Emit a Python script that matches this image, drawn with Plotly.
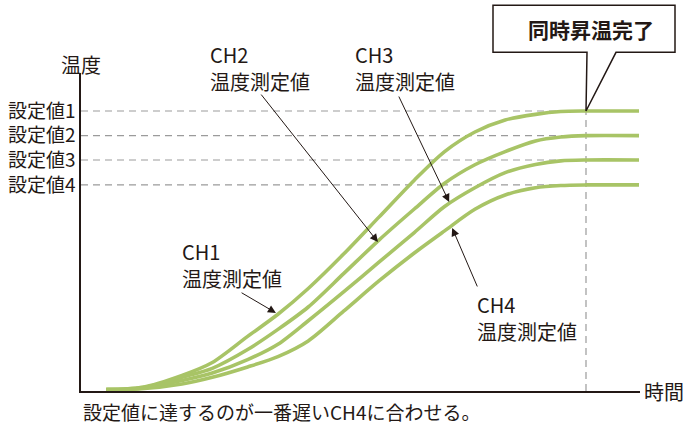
import plotly.graph_objects as go

# ---- data (arbitrary units) ----
time = [5, 12, 20, 26, 33, 39, 45, 52, 59, 66, 72, 78, 84, 90, 95, 100, 110.5]
ch1 = [0.5, 1.3, 5.6, 10.2, 19.5, 27.4, 36.6, 48.9, 62.1, 75.3, 85.5, 92.5, 96.8, 98.8, 99.8, 100, 100]
ch2 = [0.5, 1.1, 4.9, 8.1, 14.8, 22.0, 30.0, 41.9, 53.9, 65.0, 74.2, 80.8, 85.5, 89.3, 90.7, 91.2, 91.2]
ch3 = [0.5, 1.0, 3.75, 6.4, 11.2, 16.7, 25.1, 35.4, 46.0, 56.6, 65.9, 72.6, 78.0, 80.9, 82.2, 82.5, 82.5]
ch4 = [0.5, 0.8, 2.5, 4.9, 8.6, 12.3, 17.9, 28.5, 39.3, 49.3, 57.2, 64.9, 70.0, 72.6, 73.4, 73.6, 73.6]
setpoints = [100, 91.2, 82.5, 73.6]
setpoint_labels = ["設定値1", "設定値2", "設定値3", "設定値4"]
t_done = 100
series_names = ["CH1", "CH2", "CH3", "CH4"]
series_values = [ch1, ch2, ch3, ch4]
label_second_line = "温度測定値"

# label positions (time, temp of first line) and arrow tail/head
label_pos = {"CH1": (19.6, 49.8), "CH2": (25.15, 120.2), "CH3": (53.86, 120.2), "CH4": (78.0, 30.9)}
arrow_tail = {"CH1": (31.5, 35.4), "CH2": (35.45, 106.4), "CH3": (62.8, 105.7), "CH4": (78.6, 36.8)}
arrow_head = {"CH1": (38.6, 27.9), "CH2": (58.8, 53.2), "CH3": (72.9, 67.5), "CH4": (73.5, 58.2)}

X_MAX = 110.693
Y_MAX = 113.571
L, R, T, B = 81, 50, 73, 33
W, H = 690, 424
PW, PH = W - L - R, H - T - B
LINE_GAP_PX = 27

DARK = "#231815"
GREEN = "#a8c466"
GRAY = "#9b9b9b"
FONT = "Noto Sans CJK JP"

fig = go.Figure()

# setpoint dashed lines
for sp in setpoints:
    fig.add_trace(go.Scatter(x=[0, t_done], y=[sp, sp], mode="lines",
                             line=dict(color=GRAY, width=1.2, dash="7px,5px"),
                             hoverinfo="skip", showlegend=False))
# vertical completion line
fig.add_trace(go.Scatter(x=[t_done, t_done], y=[0, setpoints[0]], mode="lines",
                         line=dict(color=GRAY, width=1.2, dash="7px,5px"),
                         hoverinfo="skip", showlegend=False))

for name, vals in zip(series_names, series_values):
    fig.add_trace(go.Scatter(x=time, y=vals, mode="lines", name=name,
                             line=dict(color=GREEN, width=3.6, shape="spline", smoothing=0.8),
                             showlegend=False))

ann = []
for name in series_names:
    lx, ly = label_pos[name]
    for i, txt in enumerate([name, label_second_line]):
        ann.append(dict(x=lx / X_MAX, y=ly / Y_MAX, xref="paper", yref="paper",
                        yshift=-i * LINE_GAP_PX,
                        xanchor="left", yanchor="middle",
                        align="left", showarrow=False, text=txt,
                        font=dict(size=20, color=DARK, family=FONT)))
    hx, hy = arrow_head[name]
    tx, ty = arrow_tail[name]
    ann.append(dict(x=hx, y=hy, xref="x", yref="y", ax=tx, ay=ty, axref="x", ayref="y",
                    text="", showarrow=True, arrowhead=2, arrowsize=1.6, arrowwidth=1,
                    arrowcolor=DARK, standoff=0, startstandoff=0))

# axis titles and caption
ann.append(dict(x=0, y=1, xref="paper", yref="paper", xanchor="center", yanchor="middle",
                yshift=9, showarrow=False, text="温度", font=dict(size=20, color=DARK, family=FONT)))
ann.append(dict(x=1, y=0, xref="paper", yref="paper", xanchor="left", yanchor="middle",
                xshift=2, showarrow=False, text="時間", font=dict(size=20, color=DARK, family=FONT)))
ann.append(dict(x=0, y=0, xref="paper", yref="paper", xanchor="left", yanchor="middle",
                yshift=-20, showarrow=False, text="設定値に達するのが一番遅いCH4に合わせる。",
                font=dict(size=19, color=DARK, family=FONT)))

# callout bubble, anchored at completion point
tip_x = t_done / X_MAX
tip_y = setpoints[0] / Y_MAX
def px(dx):
    return tip_x + dx / PW
def py(dy):
    return tip_y + dy / PH
path = (f"M {px(-93)},{py(105.7)} L {px(89)},{py(105.7)} L {px(89)},{py(58.7)} "
        f"L {px(30)},{py(58.7)} L {px(0)},{py(0)} L {px(1)},{py(58.7)} "
        f"L {px(-93)},{py(58.7)} Z")
shapes = [dict(type="path", path=path, xref="paper", yref="paper",
               fillcolor="white", line=dict(color=DARK, width=1.5), layer="above")]
ann.append(dict(x=px(5), y=py(81.5), xref="paper", yref="paper", xanchor="center",
                yanchor="middle", showarrow=False, text="<b>同時昇温完了</b>",
                font=dict(size=21, color=DARK, family=FONT)))

fig.update_layout(
    width=W, height=H, margin=dict(l=L, r=R, t=T, b=B, autoexpand=False),
    paper_bgcolor="white", plot_bgcolor="white",
    showlegend=False,
    xaxis=dict(range=[0, X_MAX], showgrid=False, zeroline=False, showticklabels=False,
               showline=True, linecolor=DARK, linewidth=1.5, ticks=""),
    yaxis=dict(range=[0, Y_MAX], showgrid=False, zeroline=False,
               tickvals=setpoints, ticktext=setpoint_labels, ticks="",
               tickfont=dict(size=19, color=DARK, family=FONT),
               showline=True, linecolor=DARK, linewidth=1.5),
    annotations=ann, shapes=shapes,
    font=dict(family=FONT),
)

fig.write_html("out.html", config={"displayModeBar": False},
               post_script="document.body.style.margin='0px';")
